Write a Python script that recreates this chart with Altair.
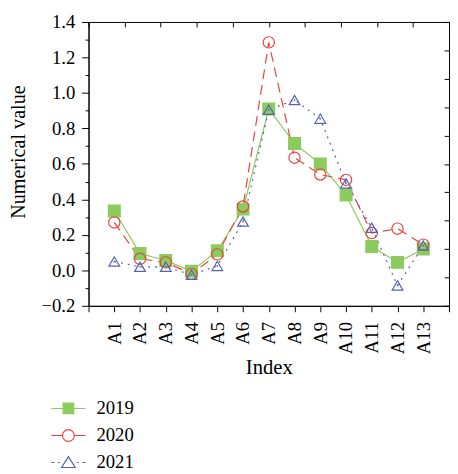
import altair as alt
import pandas as pd

# ---- data ----
indices = list(range(1, 14))
years = ["2019", "2020", "2021"]
v2019 = [0.335, 0.095, 0.055, -0.005, 0.11, 0.345, 0.91, 0.715, 0.60, 0.425, 0.135, 0.045, 0.12]
v2020 = [0.27, 0.065, 0.045, -0.02, 0.09, 0.36, 1.285, 0.635, 0.54, 0.51, 0.21, 0.235, 0.145]
v2021 = [0.05, 0.02, 0.02, -0.025, 0.025, 0.275, 0.905, 0.96, 0.855, 0.49, 0.24, -0.085, 0.14]

y_ticks = [-0.2, -0.1, 0.0, 0.1, 0.2, 0.3, 0.4, 0.5, 0.6, 0.7, 0.8, 0.9, 1.0, 1.1, 1.2, 1.3, 1.4]
x_ticks = list(range(0, 15))
frame_ticks = list(range(0, 11))

colors = ["#8ccb5e", "#e8423c", "#5464b0"]
fills = ["#8ccb5e", "transparent", "transparent"]
shapes = ["square", "circle", "triangle-up"]
sizes = [144, 120, 150]
dashes = [[1, 0], [10, 6], [2, 5]]
legend_paths = [
    "M-2.9,0H-0.9M0.9,0H2.9M-0.9,-0.9H0.9V0.9H-0.9Z",
    "M-2.9,0H-1.0M1.0,0H2.9M1.0,0A1.0,1.0,0,1,1,-1.0,0A1.0,1.0,0,1,1,1.0,0Z",
    "M-2.9,0H-2.4M-1.75,0H-1.45M1.45,0H1.75M2.4,0H2.9M0,-1.0L1.15,0.85H-1.15Z",
]

rows = []
for yr, vals in zip(years, [v2019, v2020, v2021]):
    for i, v in zip(indices, vals):
        rows.append({"idx": i, "value": v, "year": yr})
df = pd.DataFrame(rows)
frame_df = pd.DataFrame({"t": frame_ticks})

FONT = "Liberation Serif"

x_axis = alt.Axis(
    values=x_ticks,
    labelExpr="datum.value >= 1 && datum.value <= 13 ? 'A' + datum.value : ''",
    labelAngle=-90,
    labelAlign="right",
    labelBaseline="middle",
    labelFontSize=19,
    labelPadding=10,
    labelOverlap=False,
    labelBound=False,
    tickSize=6,
    title="Index",
    titleFontSize=21,
    titlePadding=3,
)
y_axis = alt.Axis(
    values=y_ticks,
    format=".1f",
    labelExpr="abs(round(datum.value * 10)) % 2 == 0 ? datum.label : ''",
    tickSize={"condition": {"test": "abs(round(datum.value * 10)) % 2 == 0", "value": 7}, "value": 3.5},
    labelFontSize=19,
    labelPadding=7,
    labelOverlap=False,
    labelBound=False,
    title="Numerical value",
    titleFontSize=20.5,
    titlePadding=13,
    titleY=132,
)


def xe():
    return alt.X("idx:Q", scale=alt.Scale(domain=[0, 14], nice=False), axis=x_axis)


def ye():
    return alt.Y("value:Q", scale=alt.Scale(domain=[-0.2, 1.4], nice=False, zero=False), axis=y_axis)


lines = alt.Chart(df).mark_line(strokeWidth=1.2).encode(
    x=xe(),
    y=ye(),
    stroke=alt.Stroke("year:N", scale=alt.Scale(domain=years, range=colors), legend=None),
    strokeDash=alt.StrokeDash("year:N", scale=alt.Scale(domain=years, range=dashes), legend=None),
)

points = alt.Chart(df).mark_point(filled=False, strokeWidth=1.2, opacity=1).encode(
    x=xe(),
    y=ye(),
    shape=alt.Shape("year:N", scale=alt.Scale(domain=years, range=shapes), legend=None),
    stroke=alt.Stroke("year:N", scale=alt.Scale(domain=years, range=colors), legend=None),
    fill=alt.Fill("year:N", scale=alt.Scale(domain=years, range=fills), legend=None),
    size=alt.Size("year:N", scale=alt.Scale(domain=years, range=sizes), legend=None),
)

dots = alt.Chart(df).transform_filter(alt.datum.year == "2021").mark_point(
    shape="circle", size=3, filled=True, color=colors[2], opacity=1
).encode(x=xe(), y=ye())

data_layer = alt.layer(lines, points, dots)

frame = alt.Chart(frame_df).mark_point(opacity=0).encode(
    x=alt.X("t:Q", scale=alt.Scale(domain=[0, 10], nice=False),
            axis=alt.Axis(orient="top", values=frame_ticks, labels=False, domain=False,
                          tickSize=5, offset=-5, title=None)),
    y=alt.Y("t:Q", scale=alt.Scale(domain=[0, 10], nice=False),
            axis=alt.Axis(orient="right", values=frame_ticks, labels=False, domain=False,
                          tickSize=5, offset=-5, title=None)),
)

legend_layer = alt.Chart(df).transform_filter("false").mark_point(
    filled=False, strokeWidth=1.2, opacity=1
).encode(
    shape=alt.Shape(
        "year:N",
        scale=alt.Scale(domain=years, range=legend_paths),
        legend=alt.Legend(
            title=None, orient="none", legendX=-30, legendY=384, direction="vertical",
            labelFont=FONT, labelFontSize=19, labelColor="black", symbolSize=144,
            symbolStrokeWidth=1.2, symbolOpacity=1, labelOffset=19, rowPadding=7.5,
        ),
    ),
    stroke=alt.Stroke("year:N", scale=alt.Scale(domain=years, range=colors)),
    fill=alt.Fill("year:N", scale=alt.Scale(domain=years, range=fills)),
)

chart = alt.layer(data_layer, frame, legend_layer).resolve_scale(
    x="independent", y="independent", shape="independent",
    stroke="independent", fill="independent",
).properties(
    width=367, height=289,
    autosize=alt.AutoSizeParams(type="none"),
    padding={"left": 82, "top": 10, "right": 1, "bottom": 167},
).configure_view(
    stroke="black", strokeWidth=1,
).configure_axis(
    grid=False, domainColor="black", tickColor="black", labelColor="black",
    titleColor="black", labelFont=FONT, titleFont=FONT, titleFontWeight="normal",
    domainWidth=1, tickWidth=1, labelOverlap=False,
)

chart.save("out.html", embed_options={"renderer": "svg", "actions": False})
